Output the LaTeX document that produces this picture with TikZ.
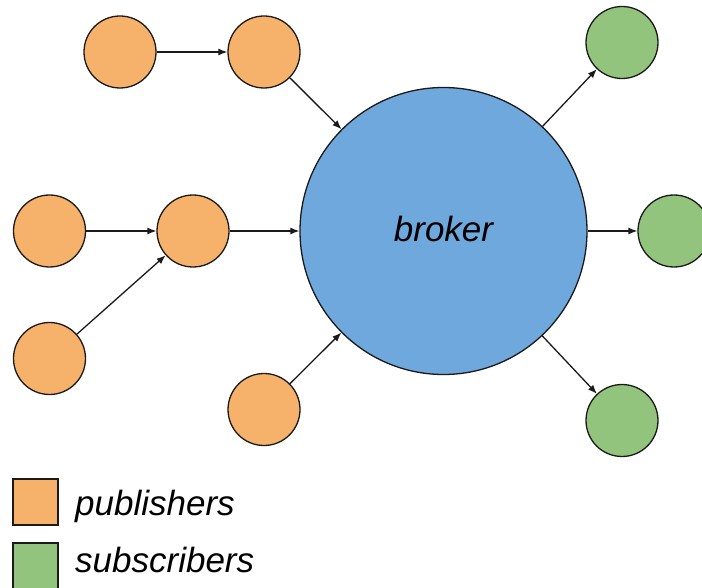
\documentclass[tikz,border=0pt]{standalone}
\usepackage{fontspec}
\setmainfont{Liberation Sans}
\usetikzlibrary{arrows.meta}
\definecolor{pubfill}{HTML}{F6B26B}
\definecolor{subfill}{HTML}{93C47D}
\definecolor{brokerfill}{HTML}{6FA8DC}
\definecolor{edge}{HTML}{1A1A1A}
\tikzset{
  pub/.style={circle, draw=edge, line width=1.3pt, fill=pubfill, minimum size=72pt, inner sep=0pt},
  sub/.style={circle, draw=edge, line width=1.3pt, fill=subfill, minimum size=72pt, inner sep=0pt},
  hub/.style={circle, draw=edge, line width=1.3pt, fill=brokerfill, minimum size=287pt, inner sep=0pt},
  flow/.style={draw=edge, line width=1.3pt, -{Latex[length=9pt,width=7pt]}},
  legbox/.style={draw=edge, line width=1.3pt, minimum width=45pt, minimum height=46pt, inner sep=0pt},
  txt/.style={font=\fontsize{35}{42}\selectfont\itshape, inner sep=0pt},
  lbl/.style={txt, anchor=base west}
}
\begin{document}
\begin{tikzpicture}[x=1pt, y=-1pt]
  \clip (0,0) rectangle (702,588);
  \fill[white] (0,0) rectangle (702,588);

  % broker in the middle
  \node[hub] (broker) at (443.5,231) {};
  \node[txt, anchor=base] (blabel) at (443.5,242) {broker};

  % publishers
  \node[pub] (p1) at (120,52) {};
  \node[pub] (p2) at (264,52) {};
  \node[pub] (p3) at (49.5,231) {};
  \node[pub] (p4) at (193,231) {};
  \node[pub] (p5) at (49.5,358.5) {};
  \node[pub] (p6) at (264,409.5) {};

  % subscribers
  \node[sub] (s1) at (622,42.5) {};
  \node[sub] (s2) at (674,231) {};
  \node[sub] (s3) at (622,420.5) {};

  % message flow
  \draw[flow] (p1) -- (p2);
  \draw[flow] (p2) -- (broker);
  \draw[flow] (p3) -- (p4);
  \draw[flow] (p5) -- (p4);
  \draw[flow] (p4) -- (broker);
  \draw[flow] (p6) -- (broker);
  \draw[flow] (broker) -- (s1);
  \draw[flow] (broker) -- (s2);
  \draw[flow] (broker) -- (s3);

  % legend
  \node[legbox, fill=pubfill] (legpub) at (35.5,502) {};
  \node[lbl] (legpubtext) at (75,515) {publishers};
  \node[legbox, fill=subfill] (legsub) at (35.5,566) {};
  \node[lbl] (legsubtext) at (75,572) {subscribers};
\end{tikzpicture}
\end{document}
